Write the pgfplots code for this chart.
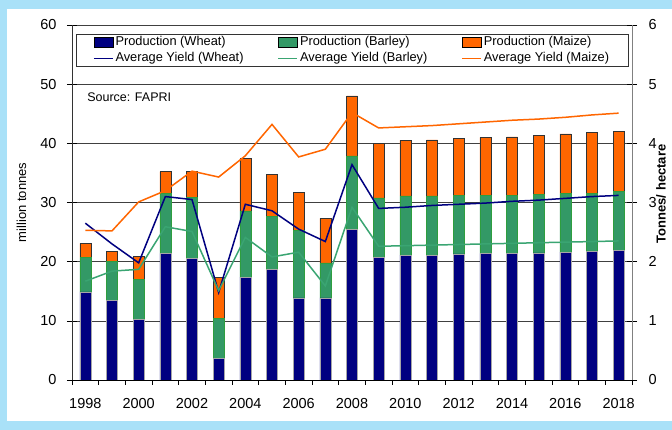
\documentclass[border=0pt]{standalone}
\usepackage{fontspec}
\setmainfont{Liberation Sans}
\usepackage{pgfplots}
\usepackage{pgfplotstable}
\pgfplotsset{compat=1.18}
\definecolor{wheat}{HTML}{000080}
\definecolor{barley}{HTML}{339966}
\definecolor{maize}{HTML}{FF6600}
\definecolor{bgblue}{HTML}{A9E1F8}
\definecolor{barleyline}{HTML}{3AA572}
\definecolor{barleyedge}{HTML}{2E9E3E}

\pgfplotstableread{
idx year wheat barley maize ywheat ybarley ymaize
0  1998 14.9 5.8  2.4  2.65 1.67 2.53
1  1999 13.5 6.5  1.8  2.30 1.84 2.52
2  2000 10.2 6.8  3.9  1.98 1.87 3.01
3  2001 21.4 10.1 3.7  3.10 2.59 3.20
4  2002 20.5 10.4 4.3  3.05 2.51 3.53
5  2003 3.6  6.8  6.9  1.48 1.51 3.43
6  2004 17.4 11.2 8.8  2.97 2.41 3.79
7  2005 18.7 9.0  7.1  2.86 2.08 4.32
8  2006 13.9 11.4 6.4  2.55 2.16 3.77
9  2007 13.9 5.9  7.5  2.34 1.59 3.90
10 2008 25.4 12.5 10.1 3.64 2.92 4.52
11 2009 20.7 10.1 9.2  2.90 2.26 4.26
12 2010 21.1 10.0 9.4  2.92 2.27 4.28
13 2011 21.1 10.0 9.5  2.95 2.28 4.30
14 2012 21.3 9.9  9.7  2.97 2.29 4.33
15 2013 21.4 9.8  9.8  2.99 2.30 4.36
16 2014 21.4 9.8  9.9  3.02 2.31 4.39
17 2015 21.5 9.9  9.9  3.04 2.32 4.41
18 2016 21.6 9.9  10.1 3.07 2.33 4.44
19 2017 21.7 9.9  10.2 3.10 2.34 4.48
20 2018 21.9 10.0 10.1 3.12 2.35 4.51
}\datatable

\pgfplotsset{
  barleg/.style={legend image code/.code={\draw[##1] (0pt,-5pt) rectangle (19pt,5pt);}},
  lineleg/.style={legend image code/.code={\draw[##1] (0pt,0pt) -- (19pt,0pt);}},
  common/.style={
    at={(72pt,50pt)}, anchor=south west, scale only axis,
    width=560pt, height=355pt,
    xmin=-0.5, xmax=20.5, enlargelimits=false,
    /pgf/number format/assume math mode=true,
    ticklabel style={font=\fontsize{14.5}{16}\selectfont},
    tick style={black, line width=0.6pt},
    major tick length=10pt,
  },
}

\begin{document}
\begin{tikzpicture}[x=1pt,y=1pt]
\fill[bgblue] (0,0) rectangle (672,430);
\fill[white] (7,9) rectangle (672,421);

\begin{axis}[common,
  ymin=0, ymax=60,
  ybar stacked, bar width=11pt,
  axis y line*=left, axis x line*=bottom,
  x axis line style={black, line width=0.7pt},
  y axis line style={black!80, line width=0.7pt},
  xtick={0,2,...,20},
  xticklabels={1998,2000,2002,2004,2006,2008,2010,2012,2014,2016,2018},
  major x tick style={draw=none},
  minor xtick={-0.5,0.5,...,20.5},
  minor tick length=5pt,
  xtick align=outside,
  ytick={0,10,...,60},
  ytick align=center,
  ymajorgrids,
  grid style={black!75, line width=0.6pt},
  xticklabel shift=5pt,
  yticklabel shift=7pt,
]
\addplot[fill=wheat, draw=gray!70, line width=0.5pt] table[x=idx, y=wheat] {\datatable};
\addplot[fill=barley, draw=barleyedge, line width=0.5pt] table[x=idx, y=barley] {\datatable};
\addplot[fill=maize, draw=black!80, line width=0.5pt] table[x=idx, y=maize] {\datatable};
\node[anchor=west, font=\fontsize{12.5}{14}\selectfont] at (rel axis cs:0.021,0.798) {Source: FAPRI};
\end{axis}

\begin{axis}[common,
  ymin=0, ymax=6,
  axis y line*=right, axis x line=none,
  y axis line style={gray, line width=0.8pt},
  ytick={0,1,...,6},
  ytick align=center,
  yticklabel shift=8pt,
  legend columns=3,
  legend cell align=left,
  legend style={at={(rel axis cs:0.0066,0.9746)}, anchor=north west,
    draw=black!80, line width=0.6pt, fill=white,
    font=\fontsize{12.8}{14}\selectfont,
    inner xsep=17pt, inner ysep=1pt, row sep=2pt,
    /tikz/every even column/.append style={column sep=32pt},
    nodes={inner xsep=2pt, inner ysep=1pt, text height=9pt, text depth=3pt}},
]
\addlegendimage{barleg, fill=wheat, draw=black, line width=0.5pt}
\addlegendentry{Production (Wheat)}
\addlegendimage{barleg, fill=barley, draw=black, line width=0.5pt}
\addlegendentry{Production (Barley)}
\addlegendimage{barleg, fill=maize, draw=black, line width=0.5pt}
\addlegendentry{Production (Maize)}
\addplot[lineleg, wheat, line width=1.5pt, mark=none] table[x=idx, y=ywheat] {\datatable};
\addlegendentry{Average Yield (Wheat)}
\addplot[lineleg, barleyline, line width=1.5pt, mark=none] table[x=idx, y=ybarley] {\datatable};
\addlegendentry{Average Yield (Barley)}
\addplot[lineleg, maize, line width=1.5pt, mark=none] table[x=idx, y=ymaize] {\datatable};
\addlegendentry{Average Yield (Maize)}
\end{axis}

\node[rotate=90, font=\fontsize{13}{15}\selectfont] at (21.5,227.5) {million tonnes};
\node[rotate=90, font=\bfseries\fontsize{13}{15}\selectfont] at (661,236) {Tonnes/ hectare};
\end{tikzpicture}
\end{document}
